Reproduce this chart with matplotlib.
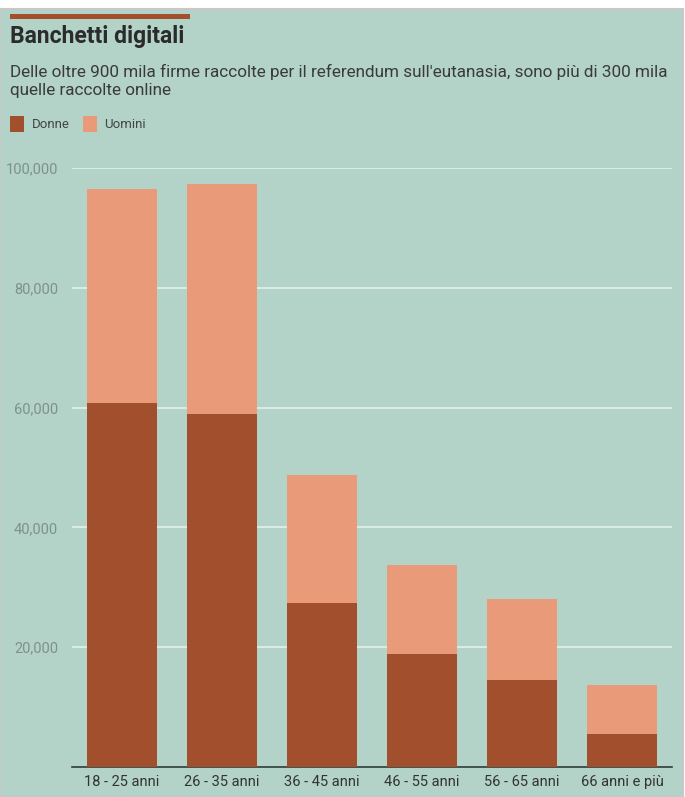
import matplotlib
matplotlib.use("Agg")
import matplotlib.pyplot as plt
from matplotlib.patches import Rectangle
import numpy as np

categories = ["18 - 25 anni", "26 - 35 anni", "36 - 45 anni", "46 - 55 anni", "56 - 65 anni", "66 anni e più"]
donne = [60800, 58900, 27400, 18900, 14500, 5500]
uomini = [35700, 38400, 21300, 14800, 13500, 8200]
yticks = [20000, 40000, 60000, 80000, 100000]
ytick_labels = ["20,000", "40,000", "60,000", "80,000", "100,000"]

BG = "#b3d3c8"
C_DONNE = "#a24f2e"
C_UOMINI = "#e99a78"

plt.rcParams['font.family'] = ['Roboto', 'DejaVu Sans']

fig = plt.figure(figsize=(6.85, 7.97), dpi=100)
fig.patch.set_facecolor("white")
# background panel
fig.add_artist(Rectangle((0, 0), 0.997, 1 - 9/797, transform=fig.transFigure,
                         facecolor=BG, edgecolor="#c8c8c8", linewidth=1.5, zorder=0))
# accent bar
fig.add_artist(Rectangle((10/685, 1 - 19/797), 180/685, 5/797, transform=fig.transFigure,
                         facecolor="#a24f2e", edgecolor="none", zorder=1))

fig.text(10/685, 1 - 36/797, "Banchetti digitali", fontsize=16.5, fontweight="bold",
         color="#2b2b2b", va="center", ha="left")
fig.text(10/685, 1 - 72/797, "Delle oltre 900 mila firme raccolte per il referendum sull'eutanasia, sono più di 300 mila",
         fontsize=12.3, color="#3a3a3a", va="center", ha="left")
fig.text(10/685, 1 - 91/797, "quelle raccolte online", fontsize=12.3, color="#3a3a3a", va="center", ha="left")

# legend
fig.add_artist(Rectangle((10/685, 1 - 132/797), 14/685, 16/797, transform=fig.transFigure,
                         facecolor=C_DONNE, edgecolor="none"))
fig.text(32/685, 1 - 124/797, "Donne", fontsize=9.5, color="#444444", va="center", ha="left")
fig.add_artist(Rectangle((83/685, 1 - 132/797), 14/685, 16/797, transform=fig.transFigure,
                         facecolor=C_UOMINI, edgecolor="none"))
fig.text(104/685, 1 - 124/797, "Uomini", fontsize=9.5, color="#444444", va="center", ha="left")

ax = fig.add_axes([72/685, 1 - 767/797, 600/685, (767 - 168)/797])
ax.set_facecolor("none")
x = np.arange(len(categories))
ax.bar(x, donne, width=0.7, color=C_DONNE, zorder=3)
ax.bar(x, uomini, width=0.7, bottom=donne, color=C_UOMINI, zorder=3)

ax.set_xlim(-0.5, len(categories) - 0.5)
ax.set_ylim(0, 100000)
ax.set_yticks(yticks)
ax.set_yticklabels(ytick_labels)
ax.set_xticks(x)
ax.set_xticklabels(categories)
ax.grid(axis="y", color="#dceae4", linewidth=1.5, zorder=1)
for s in ["top", "right", "left"]:
    ax.spines[s].set_visible(False)
ax.spines["bottom"].set_color("#2f3d38")
ax.spines["bottom"].set_linewidth(1.2)
ax.tick_params(axis="y", length=0, pad=10, labelsize=10.5, labelcolor="#7f918b")
ax.tick_params(axis="x", length=0, pad=6, labelsize=10.5, labelcolor="#333333")

fig.savefig("out.png", dpi=100, facecolor=fig.get_facecolor())
